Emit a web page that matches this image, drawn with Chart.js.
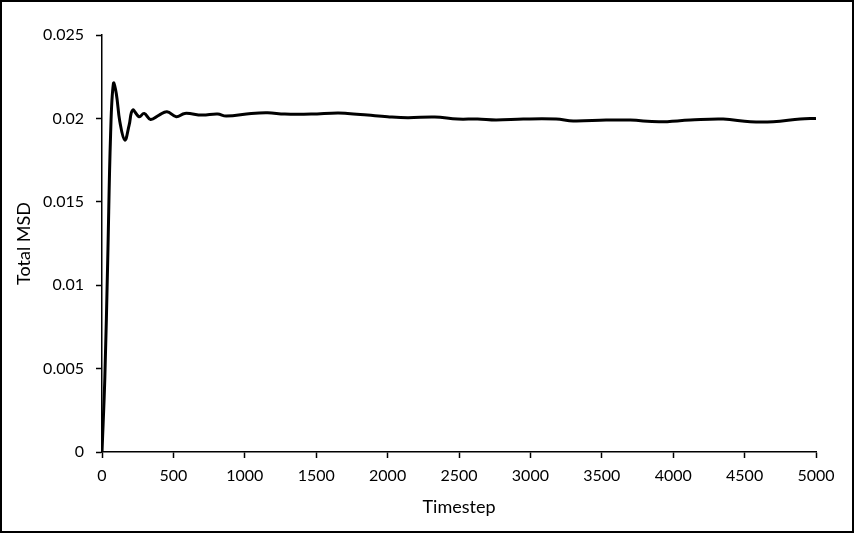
<!DOCTYPE html>
<html>
<head>
<meta charset="utf-8">
<script src="https://cdn.jsdelivr.net/npm/chart.js@4"></script>
<style>
  html, body { margin: 0; padding: 0; background: #fff; }
  #wrap { position: relative; width: 854px; height: 533px; }
  #frame { position: absolute; left: 0; top: 0; width: 854px; height: 533px; box-sizing: border-box; border: 2px solid #000; pointer-events: none; }
</style>
</head>
<body>
<div id="wrap">
  <canvas id="msdChart" width="854" height="533"></canvas>
  <div id="frame"></div>
</div>
<script>
// values
const timesteps = [0, 20, 40, 60, 80, 100, 125, 160, 190, 215, 260, 295, 340, 400, 455, 520, 580, 700, 810, 870,
    1045, 1160, 1280, 1465, 1650, 1720, 1860, 2000, 2140, 2330, 2490, 2630, 2760, 2950, 3180, 3300, 3530, 3700,
    3900, 4120, 4350, 4540, 4700, 4890, 5000];
const totalMsd = [0, 0.0045, 0.0115, 0.019, 0.0221, 0.0215, 0.0198, 0.0187, 0.0196, 0.0205, 0.0201, 0.0203, 0.01994, 0.0202,
    0.0204, 0.0201, 0.0203, 0.0202, 0.02026, 0.02014, 0.0203, 0.02034, 0.02026, 0.02026, 0.02033, 0.0203, 0.0202,
    0.0201, 0.02004, 0.02008, 0.01996, 0.01996, 0.0199, 0.01996, 0.01996, 0.01984, 0.0199, 0.0199, 0.0198, 0.0199,
    0.01996, 0.0198, 0.0198, 0.01996, 0.02];
const xTickStep = 500;
const yTickStep = 0.005;

document.addEventListener("DOMContentLoaded", function () {
    const font = { family: 'Lato', size: 16 };
    const titleFont = { family: 'Lato', size: 18 };
    const ctx = document.getElementById('msdChart').getContext('2d');
    new Chart(ctx, {
        type: 'line',
        data: {
            datasets: [{
                label: 'Total MSD',
                data: timesteps.map((t, i) => ({ x: t, y: totalMsd[i] })),
                borderColor: '#000',
                borderWidth: 3,
                pointRadius: 0,
                tension: 0.4,
                fill: false
            }]
        },
        options: {
            responsive: false,
            animation: false,
            layout: { padding: { left: 0, top: 35, right: 38, bottom: 0 } },
            plugins: { legend: { display: false }, tooltip: { enabled: false } },
            scales: {
                x: {
                    type: 'linear',
                    min: 0, max: 5000,
                    ticks: { stepSize: xTickStep, color: '#000', font: font, padding: 8, maxRotation: 0,
                        callback: v => String(v) },
                    grid: { drawOnChartArea: false, tickLength: 6, tickColor: '#000', tickWidth: 1.5 },
                    border: { color: '#000', width: 1.5 },
                    title: { display: true, text: 'Timestep', color: '#000', font: titleFont, padding: { top: 0, bottom: 15 } },
                    afterFit: function (scale) { scale.height = 81; }
                },
                y: {
                    min: 0, max: 0.025,
                    ticks: {
                        stepSize: yTickStep, color: '#000', font: font, padding: 12,
                        callback: v => String(parseFloat(v.toFixed(3)))
                    },
                    grid: { drawOnChartArea: false, tickLength: 6, tickColor: '#000', tickWidth: 1.5 },
                    border: { color: '#000', width: 1.5 },
                    title: { display: true, text: 'Total MSD', color: '#000', font: titleFont, padding: { top: 13, bottom: 0 } },
                    afterFit: function (scale) { scale.width = 102; }
                }
            }
        }
    });
});
</script>
</body>
</html>
